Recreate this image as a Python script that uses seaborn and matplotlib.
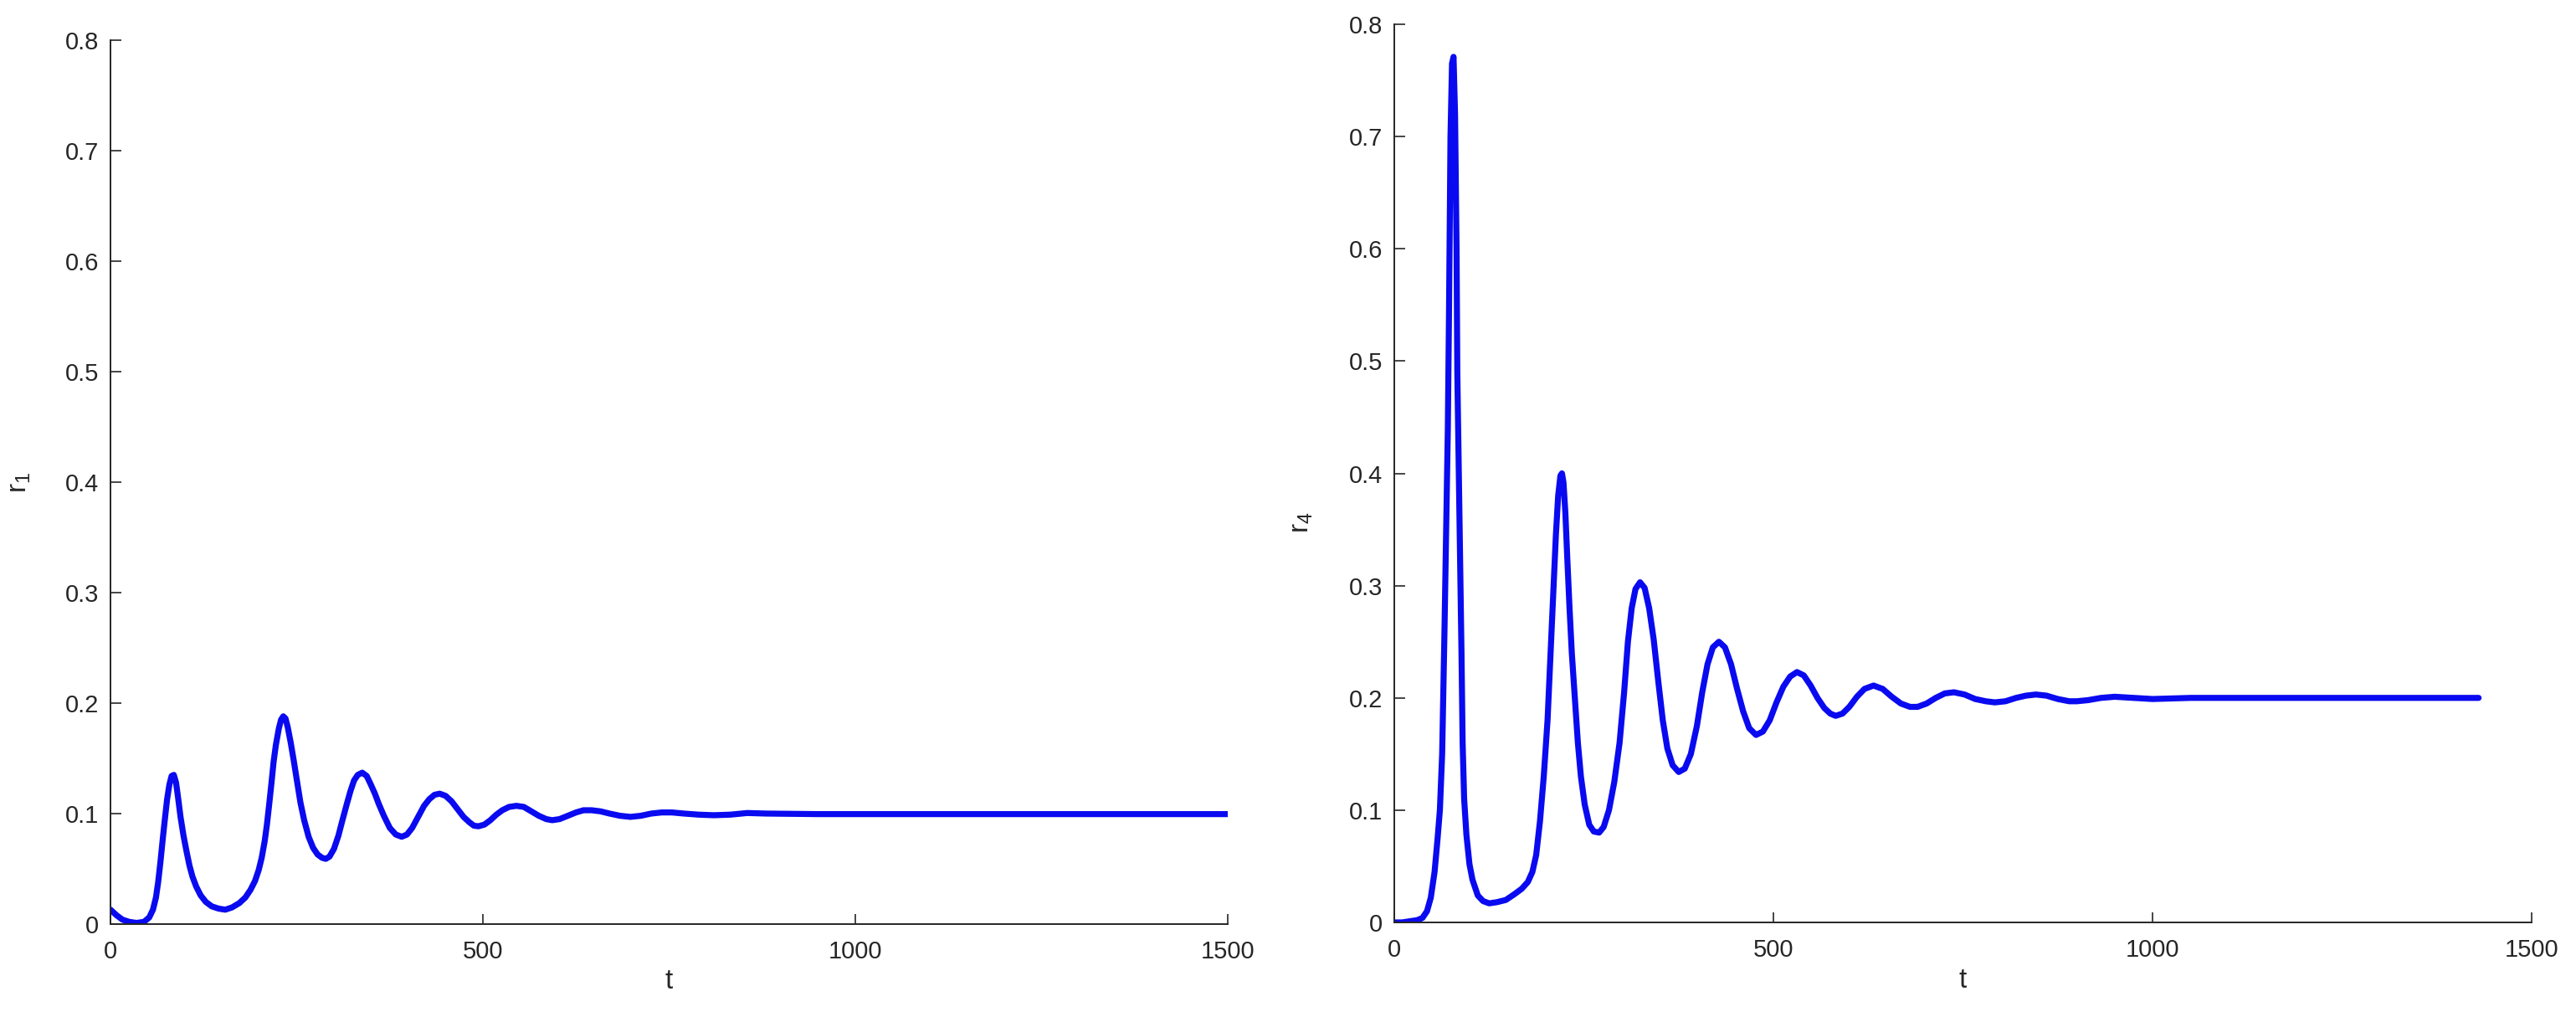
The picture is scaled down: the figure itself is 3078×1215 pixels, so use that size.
import numpy as np
import pandas as pd
import seaborn as sns
import matplotlib
matplotlib.use("Agg")
import matplotlib.pyplot as plt

# r1 (t, value)
t1 = [0, 8, 16, 25, 35, 45, 52, 57, 61, 64, 67, 70, 73, 76, 79, 82, 85, 88, 91, 94,
      98, 102, 106, 110, 115, 121, 128, 136, 145, 154, 163, 173, 181, 188, 194, 199,
      203, 207, 210, 213, 216, 219, 222, 226, 229, 232, 235, 238, 242, 246, 250, 255,
      260, 266, 272, 278, 284, 289, 294, 300, 306, 311, 317, 322, 327, 332, 338, 344,
      349, 355, 360, 367, 375, 383, 391, 398, 405, 413, 421, 428, 435, 442, 450, 458,
      466, 474, 482, 488, 494, 502, 510, 518, 526, 535, 545, 555, 565, 575, 585, 593,
      603, 614, 625, 635, 646, 658, 670, 684, 698, 712, 726, 740, 754, 770, 790, 810,
      832, 855, 880, 950, 1050, 1200, 1350, 1500]
r1 = [0.013, 0.008, 0.004, 0.002, 0.001, 0.002, 0.006, 0.013, 0.024, 0.038, 0.056,
      0.076, 0.095, 0.113, 0.126, 0.134, 0.135, 0.128, 0.113, 0.097, 0.080, 0.066,
      0.053, 0.043, 0.034, 0.026, 0.020, 0.016, 0.014, 0.013, 0.015, 0.019, 0.024,
      0.031, 0.039, 0.049, 0.060, 0.075, 0.090, 0.108, 0.127, 0.147, 0.162, 0.177,
      0.185, 0.188, 0.186, 0.178, 0.164, 0.148, 0.131, 0.110, 0.094, 0.079, 0.069,
      0.063, 0.060, 0.059, 0.061, 0.068, 0.080, 0.093, 0.108, 0.120, 0.130, 0.135,
      0.137, 0.134, 0.127, 0.118, 0.109, 0.098, 0.087, 0.081, 0.079, 0.081, 0.087,
      0.097, 0.107, 0.113, 0.117, 0.118, 0.116, 0.111, 0.104, 0.097, 0.092, 0.089,
      0.0885, 0.090, 0.094, 0.099, 0.103, 0.106, 0.107, 0.106, 0.102, 0.098, 0.095,
      0.094, 0.095, 0.098, 0.101, 0.103, 0.103, 0.102, 0.100, 0.098, 0.097, 0.098,
      0.100, 0.101, 0.101, 0.100, 0.099, 0.0985, 0.099, 0.1005, 0.100, 0.0995,
      0.0995, 0.0995, 0.0995, 0.0995]

# r4 (t, value)
t4 = [0, 10, 20, 30, 37, 43, 48, 53, 57, 60, 63, 66, 68, 70.5, 72, 74, 76, 78, 80,
      82, 83, 85, 86.5, 88.5, 90, 92, 95, 99, 103, 110, 117, 125, 135, 147, 158, 168,
      176, 182, 187, 192, 197, 202, 206, 210, 213, 216, 219, 221, 223, 225.5, 228,
      231, 234, 238, 242, 246, 251, 257, 263, 270, 276, 283, 290, 297, 303, 308, 313,
      318, 324, 330, 336, 342, 348, 354, 360, 367, 375, 383, 391, 399, 406, 413, 420,
      428, 436, 444, 452, 460, 468, 477, 486, 495, 504, 513, 522, 531, 540, 549, 558,
      567, 575, 582, 591, 600, 610, 620, 632, 644, 656, 668, 680, 690, 702, 714, 726,
      738, 752, 766, 780, 792, 806, 820, 833, 846, 860, 875, 890, 900, 915, 932, 950,
      975, 1000, 1050, 1100, 1200, 1300, 1430]
r4 = [0.000, 0.000, 0.001, 0.002, 0.004, 0.010, 0.022, 0.045, 0.075, 0.100, 0.150,
      0.257, 0.340, 0.440, 0.540, 0.700, 0.765, 0.771, 0.720, 0.600, 0.490, 0.400,
      0.336, 0.240, 0.160, 0.110, 0.078, 0.052, 0.038, 0.024, 0.019, 0.017, 0.018,
      0.020, 0.025, 0.030, 0.036, 0.045, 0.060, 0.090, 0.130, 0.180, 0.240, 0.300,
      0.345, 0.380, 0.398, 0.400, 0.392, 0.365, 0.325, 0.280, 0.240, 0.200, 0.160,
      0.130, 0.105, 0.087, 0.081, 0.080, 0.085, 0.100, 0.125, 0.160, 0.205, 0.250,
      0.280, 0.297, 0.303, 0.298, 0.280, 0.252, 0.215, 0.180, 0.155, 0.140, 0.134,
      0.137, 0.150, 0.175, 0.205, 0.230, 0.245, 0.250, 0.245, 0.230, 0.208, 0.188,
      0.173, 0.167, 0.170, 0.180, 0.196, 0.210, 0.219, 0.223, 0.220, 0.211, 0.200,
      0.191, 0.186, 0.184, 0.186, 0.192, 0.201, 0.208, 0.211, 0.208, 0.201, 0.195,
      0.192, 0.192, 0.195, 0.200, 0.204, 0.205, 0.203, 0.199, 0.197, 0.196, 0.197,
      0.200, 0.202, 0.203, 0.202, 0.199, 0.197, 0.197, 0.198, 0.200, 0.201, 0.200,
      0.199, 0.200, 0.200, 0.200, 0.200, 0.200]

x_ticks = [0, 500, 1000, 1500]
y_ticks = [0, 0.1, 0.2, 0.3, 0.4, 0.5, 0.6, 0.7, 0.8]
y_tick_labels = ["0", "0.1", "0.2", "0.3", "0.4", "0.5", "0.6", "0.7", "0.8"]

sns.set_style("ticks")
plt.rcParams["font.family"] = ["Liberation Sans", "DejaVu Sans"]
plt.rcParams["mathtext.default"] = "regular"

ink = "#262626"
fig = plt.figure(figsize=(30.78, 12.15), dpi=100)
ax1 = fig.add_axes([0.0429, 0.0914, 0.4337, 0.8691])
ax2 = fig.add_axes([0.5413, 0.0930, 0.4415, 0.8831])

panels = [(ax1, t1, r1, "r$_1$", 0.50), (ax2, t4, r4, "r$_4$", 0.445)]
for ax, t, r, lab, ylab_pos in panels:
    df = pd.DataFrame({"t": t, "r": r})
    sns.lineplot(data=df, x="t", y="r", ax=ax, color="#0a0af0", linewidth=5.2,
                 sort=False, estimator=None)
    ax.set_xlim(0, 1500)
    ax.set_ylim(0, 0.8)
    ax.set_xticks(x_ticks)
    ax.set_xticklabels([str(v) for v in x_ticks])
    ax.set_yticks(y_ticks)
    ax.set_yticklabels(y_tick_labels)
    sns.despine(ax=ax)
    for s in ["left", "bottom"]:
        ax.spines[s].set_color(ink)
        ax.spines[s].set_linewidth(1.4)
    ax.tick_params(direction="in", length=9, width=1.2, colors=ink,
                   labelsize=21, pad=10)
    ax.tick_params(axis="x", pad=14)
    ax.set_xlabel("t", fontsize=24, color=ink)
    ax.xaxis.set_label_coords(0.5, -0.05)
    ax.set_ylabel(lab, fontsize=24, color=ink)
    ax.yaxis.set_label_coords(-0.07, ylab_pos)

fig.savefig("out.png", dpi=100)
